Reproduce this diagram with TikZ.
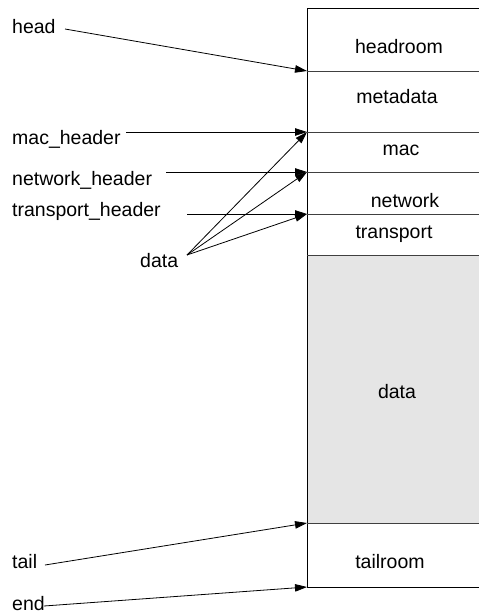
\documentclass[tikz,border=0pt]{standalone}
\usepackage{fontspec}
\setmainfont{Liberation Sans}
\usetikzlibrary{arrows.meta}
\begin{document}
\begin{tikzpicture}[x=1pt,y=-1pt,
  lbl/.style={anchor=base west,inner sep=0pt,font=\fontsize{19.5}{22}\selectfont},
  field/.style={anchor=base,inner sep=0pt,font=\fontsize{19.5}{22}\selectfont},
  ptr/.style={line width=0.8pt,-{Triangle[length=12pt,width=7.5pt]}},
  divider/.style={line width=0.8pt,draw=black!75}]
\useasboundingbox (0,0) rectangle (479,613);

% buffer outline and shaded data area
\fill[black!10] (307,255) rectangle (479,523);
\draw[line width=0.8pt] (479,8) -- (307,8) -- (307,587) -- (479,587);
\foreach \yy in {71,132,172,214,255,523}
  \draw[divider] (307,\yy) -- (479,\yy);

% boundary points on the buffer edge
\coordinate (pHead) at (307,71);
\coordinate (pMac) at (307,132);
\coordinate (pNet) at (307,172);
\coordinate (pTrans) at (307,214);
\coordinate (pTail) at (307,523);
\coordinate (pEnd) at (307,587);

% region names
\node[field] (headroom) at (399,53) {headroom};
\node[field] (metadata) at (397,103) {metadata};
\node[field] (mac) at (401,155) {mac};
\node[field] (network) at (405,207) {network};
\node[field] (transport) at (394,238) {transport};
\node[field] (databody) at (397,398) {data};
\node[field] (tailroom) at (390,568) {tailroom};

% pointer names
\node[lbl] (head) at (12,33) {head};
\node[lbl] (machdr) at (12,144) {mac\_header};
\node[lbl] (nethdr) at (12,185) {network\_header};
\node[lbl] (transhdr) at (12,216) {transport\_header};
\node[lbl] (data) at (140,267) {data};
\node[lbl] (tail) at (12,568) {tail};
\node[lbl] (end) at (12,610) {end};

% where each pointer line starts
\coordinate (sHead) at (65,29);
\coordinate (sMac) at (126,132);
\coordinate (sNet) at (166,172);
\coordinate (sTrans) at (187,214);
\coordinate (sData) at (187,255);
\coordinate (sTail) at (45,565);
\coordinate (sEnd) at (44,606);

\draw[ptr] (sHead) -- (pHead);
\draw[ptr] (sMac) -- (pMac);
\draw[ptr] (sNet) -- (pNet);
\draw[ptr] (sTrans) -- (pTrans);
\draw[ptr] (sData) -- (pMac);
\draw[ptr] (sData) -- (pNet);
\draw[ptr] (sData) -- (pTrans);
\draw[ptr] (sTail) -- (pTail);
\draw[ptr] (sEnd) -- (pEnd);
\end{tikzpicture}
\end{document}
